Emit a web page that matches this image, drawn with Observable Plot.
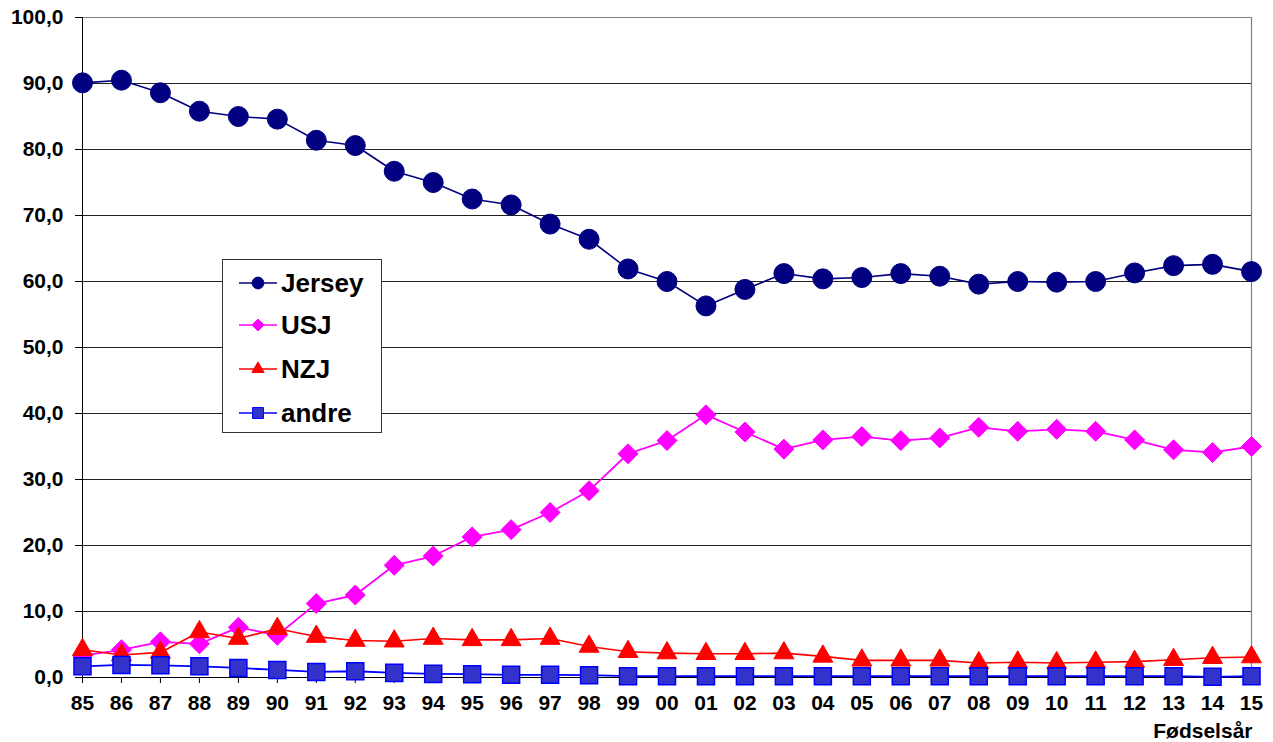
<!DOCTYPE html>
<html>
<head>
<meta charset="utf-8">
<script src="https://cdn.jsdelivr.net/npm/d3@7"></script>
<script src="https://cdn.jsdelivr.net/npm/@observablehq/plot@0.6"></script>
<style>
  body { margin: 0; background: #fff; font-family: "Liberation Sans", Arial, sans-serif; }
  #wrap { position: relative; width: 1273px; height: 742px; }
  #legend { position: absolute; left: 222px; top: 259px; width: 158px; height: 172px;
            border: 1px solid #333; background: #fff; box-sizing: content-box; }
  .item { position: absolute; left: 0; height: 30px; display: flex; align-items: center;
          font-weight: bold; font-size: 26px; color: #000; white-space: nowrap; }
  .item svg { margin-left: 16px; margin-right: 4px; display: block; }
</style>
</head>
<body>
<div id="wrap"></div>
<script>
// ---- data ----
const years = ["85","86","87","88","89","90","91","92","93","94","95","96","97","98","99",
               "00","01","02","03","04","05","06","07","08","09","10","11","12","13","14","15"];
const jersey = [90.1,90.5,88.6,85.8,85.0,84.6,81.4,80.6,76.7,
                75.0,72.5,71.6,68.7,66.4,61.9,60.0,56.3,58.8,61.2,60.4,
                60.6,61.2,60.8,59.6,60.0,59.9,60.0,61.3,62.4,62.6,61.5];
const usj = [3.3,4.2,5.4,5.1,7.6,6.4,11.2,12.5,17.0,
             18.4,21.3,22.4,25.0,28.3,33.9,35.9,39.8,37.2,34.6,36.0,
             36.5,35.9,36.3,37.9,37.3,37.6,37.3,36.0,34.5,34.1,35.0];
const nzj = [4.2,3.4,3.8,6.9,5.9,7.4,6.2,5.6,5.5,
             5.9,5.7,5.7,5.9,4.7,3.9,3.7,3.6,3.6,3.7,3.2,
             2.6,2.6,2.6,2.2,2.3,2.2,2.3,2.4,2.7,3.0,3.1];
const andre = [1.7,1.9,1.85,1.7,1.45,1.15,0.85,0.95,0.7,
               0.55,0.5,0.4,0.4,0.35,0.2,0.2,0.2,0.2,0.2,0.2,
               0.2,0.2,0.2,0.2,0.2,0.2,0.2,0.2,0.2,0.1,0.2];
const seriesNames = ["Jersey", "USJ", "NZJ", "andre"];
const yTicks = [0,10,20,30,40,50,60,70,80,90,100];
const xLabel = "Fødselsår";

// ---- styles ----
const seriesValues = [jersey, usj, nzj, andre];
const styles = [
  {line: "#000080", fill: "#000080", stroke: "#000080", symbol: "circle",   r: 10,  lw: 1.6},
  {line: "#FF00FF", fill: "#FF00FF", stroke: "#FF00FF", symbol: "diamond2", r: 9,   lw: 1.8},
  {line: "#FF0000", fill: "#FF0000", stroke: "#FF0000", symbol: "triangle", r: 7.4, lw: 1.6},
  {line: "#0000FF", fill: "#3333CC", stroke: "#0000FF", symbol: "square",   r: 9.6, lw: 1.8}
];

const rows = [];
seriesNames.forEach((s, i) => years.forEach((yr, j) =>
  rows.push({series: s, year: yr, value: seriesValues[i][j]})));

const fmt = d => d.toFixed(1).replace(".", ",");

const seriesMarks = [];
seriesNames.forEach((s, i) => {
  const data = rows.filter(d => d.series === s);
  const st = styles[i];
  seriesMarks.push(Plot.line(data, {x: "year", y: "value", stroke: st.line, strokeWidth: st.lw}));
  seriesMarks.push(Plot.dot(data, {x: "year", y: "value", symbol: () => st.symbol, r: st.r,
                                   fill: st.fill, stroke: st.stroke, strokeWidth: st.symbol === "square" ? 1.5 : 1}));
});

const chart = Plot.plot({
  width: 1273,
  height: 742,
  marginLeft: 82,
  marginRight: 22,
  marginTop: 17,
  marginBottom: 65,
  style: {fontFamily: "'Liberation Sans', Arial, sans-serif", fontSize: "21px", fontWeight: "bold",
          color: "#000", background: "#fff", overflow: "visible"},
  x: {type: "point", domain: years, padding: 0, round: false},
  y: {domain: [0, 100]},
  symbol: {type: "identity"},
  marks: [
    Plot.ruleY(yTicks.filter(t => t > 0 && t < 100), {stroke: "#222", strokeWidth: 1}),
    Plot.ruleY([100], {stroke: "#808080", strokeWidth: 1.2}),
    Plot.ruleX([years[years.length - 1]], {stroke: "#808080", strokeWidth: 1.2}),
    Plot.ruleX([years[0]], {stroke: "#000", strokeWidth: 1}),
    Plot.ruleY([0], {stroke: "#000", strokeWidth: 1}),
    Plot.axisY({ticks: yTicks, tickFormat: fmt, tickSize: 7, tickPadding: 12, label: null,
                fontSize: 21, fontWeight: "bold"}),
    Plot.axisX({tickSize: 6, tickPadding: 12, label: null, fontSize: 21, fontWeight: "bold"}),
    ...seriesMarks,
    Plot.text([xLabel], {frameAnchor: "bottom-right", textAnchor: "end", lineAnchor: "bottom",
                         dy: 60, dx: 1, fontSize: 21, fontWeight: "bold", fill: "#000"})
  ]
});
document.getElementById("wrap").appendChild(chart);

// ---- legend (HTML overlay) ----
const legend = document.createElement("div");
legend.id = "legend";
const rowCenters = [23, 65, 109, 153];
const legendSym = {circle: d3.symbolCircle, diamond2: d3.symbolDiamond2, triangle: d3.symbolTriangle, square: d3.symbolSquare};
const legendSize = {circle: 110, diamond2: 90, triangle: 65, square: 120};
seriesNames.forEach((s, i) => {
  const st = styles[i];
  const item = document.createElement("div");
  item.className = "item";
  item.style.top = (rowCenters[i] - 15) + "px";
  const svg = d3.create("svg").attr("width", 38).attr("height", 30);
  svg.append("line").attr("x1", 0).attr("x2", 38).attr("y1", 15).attr("y2", 15)
     .attr("stroke", st.line).attr("stroke-width", 1.6);
  svg.append("path").attr("transform", "translate(19,15)")
     .attr("d", d3.symbol(legendSym[st.symbol], legendSize[st.symbol])())
     .attr("fill", st.fill).attr("stroke", st.stroke).attr("stroke-width", 1);
  item.appendChild(svg.node());
  const label = document.createElement("span");
  label.textContent = s;
  item.appendChild(label);
  legend.appendChild(item);
});
document.getElementById("wrap").appendChild(legend);
</script>
</body>
</html>
